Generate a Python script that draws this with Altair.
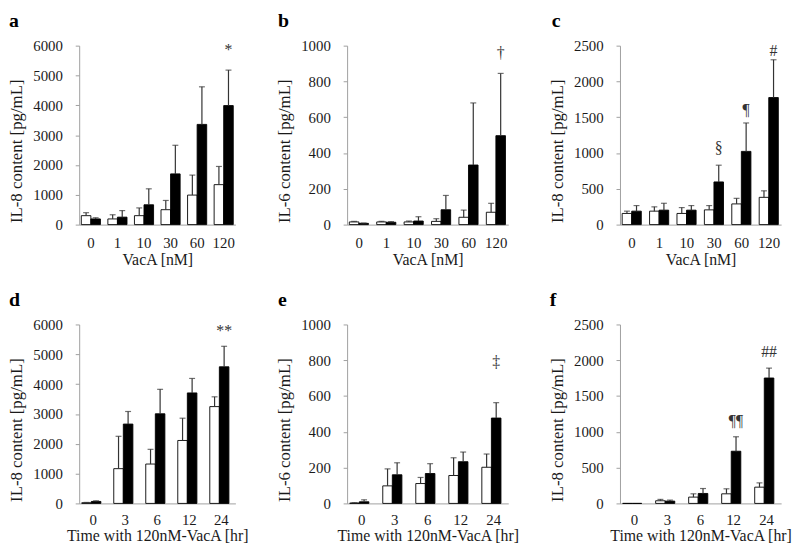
import altair as alt
import pandas as pd

FONT = "Liberation Serif"

dose_cats = ["0", "1", "10", "30", "60", "120"]
time_cats = ["0", "3", "6", "12", "24"]

# panel a: IL-8, dose
a_white = [300, 190, 300, 500, 990, 1340]
a_white_sd = [100, 140, 260, 310, 670, 610]
a_black = [190, 250, 665, 1700, 3360, 3990]
a_black_sd = [40, 220, 535, 960, 1260, 1190]

# panel b: IL-6, dose
b_white = [15, 15, 15, 18, 41, 69]
b_white_sd = [3, 3, 5, 15, 40, 50]
b_black = [7, 13, 20, 83, 333, 497]
b_black_sd = [2, 4, 24, 80, 347, 348]

# panel c: IL-8, dose
c_white = [156, 188, 156, 206, 289, 381]
c_white_sd = [32, 60, 82, 60, 78, 91]
c_black = [188, 202, 202, 596, 1023, 1775]
c_black_sd = [78, 96, 64, 234, 397, 528]

# panel d: IL-8, time
d_white = [22, 1165, 1320, 2110, 3246]
d_white_sd = [11, 1085, 493, 747, 328]
d_black = [66, 2660, 3005, 3705, 4580]
d_black_sd = [22, 422, 820, 485, 688]

# panel e: IL-6, time
e_white = [2, 98, 111, 156, 202]
e_white_sd = [2, 95, 34, 99, 74]
e_black = [9, 160, 167, 233, 477]
e_black_sd = [11, 67, 55, 54, 86]

# panel f: IL-8, time
f_white = [0, 37, 88, 134, 227]
f_white_sd = [0, 19, 46, 70, 60]
f_black = [0, 32, 139, 729, 1752]
f_black_sd = [0, 14, 69, 202, 138]

a_marks = [("120", "*", 5850)]
b_marks = [("120", "\u2020", 960)]
c_marks = [("30", "\u00a7", 1063), ("60", "\u00b6", 1600), ("120", "#", 2420)]
d_marks = [("24", "**", 5780)]
e_marks = [("24", "\u2021", 790)]
f_marks = [("12", "\u00b6\u00b6", 1148), ("24", "##", 2120)]

GROUPS = ["open", "filled"]


def make_df(cats, w, wsd, b, bsd):
    rows = []
    for c, m, s in zip(cats, w, wsd):
        rows.append(dict(cat=c, grp="open", mean=m, top=m + s, sd=s))
    for c, m, s in zip(cats, b, bsd):
        rows.append(dict(cat=c, grp="filled", mean=m, top=m + s, sd=s))
    return pd.DataFrame(rows)


def panel(cats, w, wsd, b, bsd, ymax, ystep, ytitle, xtitle, letter, width, height, marks, ldx, lpad):
    df = make_df(cats, w, wsd, b, bsd)
    xscale = alt.Scale(domain=cats, paddingInner=0.28, paddingOuter=0.08)
    xax = alt.Axis(title=xtitle, labelAngle=0, ticks=False, labelPadding=lpad, titlePadding=1)
    yscale = alt.Scale(domain=[0, ymax], nice=False, zero=True)
    yax = alt.Axis(title=ytitle, values=list(range(0, ymax + 1, ystep)), format="d",
                   tickSize=4, labelPadding=13, titlePadding=7, titleY=height - 2,
                   titleAlign="left", titleFontSize=17, grid=False)

    def X():
        return alt.X("cat:N", scale=xscale, axis=xax)

    def XO():
        return alt.XOffset("grp:N", scale=alt.Scale(domain=GROUPS, paddingInner=0, paddingOuter=0))

    def Y(f):
        return alt.Y(f + ":Q", scale=yscale, axis=yax)

    bars = alt.Chart(df).mark_bar(stroke="black", strokeWidth=0.9).encode(
        x=X(), xOffset=XO(), y=Y("mean"),
        fill=alt.Fill("grp:N", scale=alt.Scale(domain=GROUPS, range=["white", "black"]), legend=None),
    )
    err = alt.Chart(df).transform_filter("datum.sd > 0")
    rule = err.mark_rule(color="#333333", strokeWidth=1.2).encode(
        x=X(), xOffset=XO(), y=Y("mean"), y2="top:Q")
    cap = err.mark_tick(color="#333333", thickness=1.2, size=6).encode(
        x=X(), xOffset=XO(), y=Y("top"))
    adf = pd.DataFrame([dict(cat=c, grp="filled", yv=v, txt=t) for c, t, v in marks])
    ann = alt.Chart(adf).mark_text(font=FONT, fontSize=16, color="#333333", baseline="middle").encode(
        x=X(), xOffset=XO(), y=Y("yv"), text="txt:N")
    let = alt.Chart(pd.DataFrame({"t": [letter]})).mark_text(
        font=FONT, fontSize=20, fontWeight="bold", align="left", baseline="top", color="black"
    ).encode(x=alt.value(ldx), y=alt.value(-35), text="t:N")
    return alt.layer(bars, rule, cap, ann, let).properties(width=width, height=height)


H = 181
pa = panel(dose_cats, a_white, a_white_sd, a_black, a_black_sd, 6000, 1000,
           "IL-8 content [pg/mL]", "VacA [nM]", "a", 158, H, a_marks, -71, 11)
pb = panel(dose_cats, b_white, b_white_sd, b_black, b_black_sd, 1000, 200,
           "IL-6 content [pg/mL]", "VacA [nM]", "b", 163, H, b_marks, -70, 11)
pc = panel(dose_cats, c_white, c_white_sd, c_black, c_black_sd, 2500, 500,
           "IL-8 content [pg/mL]", "VacA [nM]", "c", 163, H, c_marks, -69, 11)
pd_ = panel(time_cats, d_white, d_white_sd, d_black, d_black_sd, 6000, 1000,
            "IL-8 content [pg/mL]", "Time with 120nM-VacA [hr]", "d", 158, H, d_marks, -71, 9)
pe = panel(time_cats, e_white, e_white_sd, e_black, e_black_sd, 1000, 200,
           "IL-6 content [pg/mL]", "Time with 120nM-VacA [hr]", "e", 163, H, e_marks, -70, 9)
pf = panel(time_cats, f_white, f_white_sd, f_black, f_black_sd, 2500, 500,
           "IL-8 content [pg/mL]", "Time with 120nM-VacA [hr]", "f", 163, H, f_marks, -71, 9)

chart = alt.concat(
    pa, pb, pc, pd_, pe, pf, columns=3,
    spacing=alt.RowColnumber(row=101, column=113), bounds="flush",
).properties(
    padding=0
).configure_axis(
    labelFont=FONT, titleFont=FONT, labelFontSize=15, titleFontSize=16,
    labelColor="#1a1a1a", titleColor="#1a1a1a", titleFontWeight="normal",
    domainColor="#a0a0a0", tickColor="#a0a0a0", domainWidth=1, grid=False,
).configure_view(stroke=None)

chart.save("out.html", embed_options={"renderer": "svg", "actions": False})
